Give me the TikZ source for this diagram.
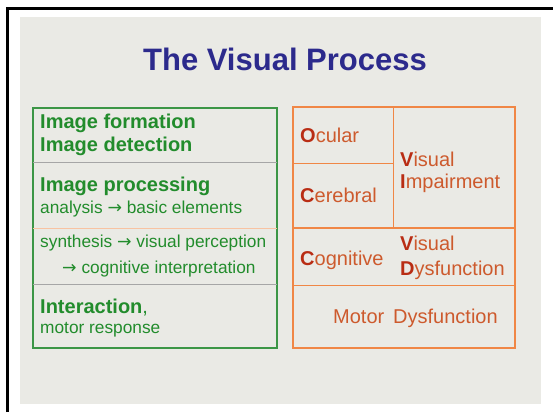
\documentclass[tikz,border=0pt]{standalone}
\usepackage{fontspec}
\setmainfont{Liberation Sans}
\newfontfamily\arrowfont{DejaVu Sans}
\usetikzlibrary{positioning}

\definecolor{slidebg}{RGB}{234,234,229}
\definecolor{titleblue}{RGB}{44,42,140}
\definecolor{procgreen}{RGB}{34,140,44}
\definecolor{boxgreen}{RGB}{60,150,70}
\definecolor{dysorange}{RGB}{205,90,45}
\definecolor{inired}{RGB}{185,45,20}
\definecolor{boxorange}{RGB}{240,135,70}

\newcommand{\ini}[1]{{\bfseries\color{inired}#1}}
\newcommand{\arr}{{\arrowfont →}}
\newcommand{\bigtxt}{\fontsize{20}{22}\selectfont}
\newcommand{\smalltxt}{\fontsize{17.3}{19}\selectfont}

\tikzset{
  txt/.style={anchor=base west, inner sep=0pt},
  greentxt/.style={txt, text=procgreen},
  orangetxt/.style={txt, text=dysorange, font=\bigtxt},
}

\begin{document}
\begin{tikzpicture}[x=1pt,y=-1pt]
        \useasboundingbox (0,0) rectangle (553,412);
        % slide background and frame
        \fill[slidebg] (20,17) rectangle (541,404);
        \draw[line width=3pt] (7,412) -- (7,9) -- (553,9);

        % title
        \node[anchor=base, inner sep=0pt, text=titleblue,
              font=\fontsize{31}{34}\selectfont\bfseries] (title) at (285,70) {The Visual Process};

        % process (left)
        \begin{scope}
            \draw[boxgreen, line width=1.2pt] (33,108) rectangle (277,348);
            \draw[gray!70] (33,162) -- (277,162);
            \draw[boxorange!50] (33,228) -- (277,228);
            \draw[gray!70] (33,284) -- (277,284);

            \node[greentxt, font=\bigtxt\bfseries] (formation) at (40,128) {Image formation};
            \node[greentxt, font=\bigtxt\bfseries] (detection) at (40,151) {Image detection};

            \node[greentxt, font=\bigtxt\bfseries] (processing) at (40,191) {Image processing};
            \node[greentxt, font=\smalltxt] (analysis) at (40,213) {analysis \arr{} basic elements};

            \node[greentxt, font=\smalltxt] (synthesis) at (40,247) {synthesis \arr{} visual perception};
            \node[greentxt, font=\smalltxt] (cognition) at (62,273) {\arr{} cognitive interpretation};

            \node[greentxt, font=\bigtxt] (interaction) at (40,313) {\textbf{Interaction},};
            \node[greentxt, font=\smalltxt] (motor) at (40,333) {motor response};
        \end{scope}

        % dysfunction (right)
        \begin{scope}
            \draw[boxorange, line width=1.2pt] (293,107) rectangle (515,348);
            \draw[boxorange] (393,107) -- (393,228);
            \draw[boxorange] (293,163) -- (393,163);
            \draw[boxorange, line width=2pt] (293,228) -- (515,228);
            \draw[boxorange] (293,285) -- (515,285);

            \node[orangetxt] (ocular) at (300,142) {\ini{O}cular};
            \node[orangetxt] (cerebral) at (300,202) {\ini{C}erebral};
            \node[orangetxt] (impairV) at (400,166) {\ini{V}isual};
            \node[orangetxt] (impairI) at (400,188) {\ini{I}mpairment};

            \node[orangetxt] (cognitive) at (300,265) {\ini{C}ognitive};
            \node[orangetxt] (dysV) at (400,250) {\ini{V}isual};
            \node[orangetxt] (dysD) at (400,275) {\ini{D}ysfunction};

            \node[orangetxt] (motordys) at (333,323) {Motor\;\,Dysfunction};
        \end{scope}

\end{tikzpicture}
\end{document}
